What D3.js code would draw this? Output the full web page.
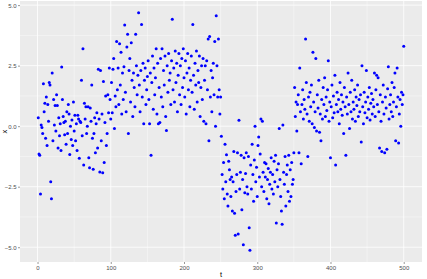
<!DOCTYPE html>
<meta charset="utf-8">
<style>
  body { margin: 0; background: #fff; }
  .tick text { font-family: "Liberation Sans", Arial, sans-serif; font-size: 6px; fill: #4d4d4d; }
  .axis-title { font-family: "Liberation Sans", Arial, sans-serif; font-size: 7.5px; fill: #000; }
</style>
<body>
<script src="https://d3js.org/d3.v7.min.js"></script>
<script>

  // x values for t = 1..500 in four stretches
  var segA = [ // t 1-95
    0.35, -1.15, -1.2, -2.8, 0.05, -0.05, -0.3, 1.75, 0.6, 0.95,
    -0.5, 1.2, -0.8, 0.9, 0.2, 1.8, 1.7, -2.3, -3.0, 2.2,
    -0.6, 1.1, 0.05, 0.85, -0.2, 1.3, 0.85, -0.9, 0.35, -0.4,
    0.1, -1.0, 2.44, 1.1, 0.4, 0.15, -0.35, 0.2, -0.75, 0.6,
    -0.3, 0.9, 0.5, -1.17, 0.0, -0.55, 0.25, -0.8, 1.0, -0.2,
    0.45, -0.6, 0.1, -1.0, 0.45, 0.3, -1.32, 0.2, 0.15, 1.9,
    -0.4, 3.2, -1.6, 0.95, 0.3, 0.8, -0.3, 0.0, 0.8, -1.3,
    -1.72, 0.75, 0.2, 1.7, -0.5, -1.78, -0.3, 0.35, -1.1, 0.1,
    0.55, -0.9, 2.35, 0.3, -1.89, 2.3, -0.6, 0.5, -1.92, 1.85,
    -1.5, 0.15, 1.25, -0.8, -0.3
  ];
  var segB = [ // t 96-250
    1.3, 0.55, 2.4, 1.1, 0.3,
    1.8, 0.55, 2.35, 2.8, -0.1, 1.25, 0.8, 3.5, 1.5, 2.4,
    0.9, 3.4, 1.7, 3.05, 0.5, 2.2, 1.1, 2.45, 4.18, 1.4,
    0.6, 3.27, 3.8, -0.3, 2.3, 2.8, 1.0, 3.45, 1.9, 0.4,
    2.2, 1.6, 0.8, 3.8, 2.5, 1.3, 2.1, 4.68, 1.7, 0.6,
    2.3, 4.2, 1.2, 2.6, 0.1, 1.9, 2.4, 0.9, 1.5, 2.05,
    2.7, 1.1, 0.1, 2.2, -1.2, 1.8, 2.9, 0.7, 2.4, 1.3,
    2.0, 3.2, 0.5, 2.6, 0.1, 1.6, 0.15, 2.8, 1.2, 3.2,
    0.8, 2.3, 1.7, 2.9, 0.4, -0.18, 2.5, 1.4, 3.0, 1.9,
    2.2, 0.9, 2.7, 4.42, 1.5, 2.4, 1.0, 3.1, 1.8, 2.6,
    0.6, 2.1, 3.0, 1.3, 2.5, 0.9, 2.8, 1.6, 3.2, 2.0,
    1.2, 2.7, 0.5, 2.2, 3.0, 1.5, 2.4, 0.8, 1.9, 2.9,
    1.4, 4.2, 2.1, 0.7, 2.6, 1.7, 3.1, 1.0, 2.3, 1.8,
    2.9, 0.4, 1.6, 2.5, 1.1, 2.8, 0.2, 1.9, 2.5, 0.1,
    2.7, 1.5, 3.6, -0.6, 3.7, 1.2, 2.3, 0.6, 2.0, 2.6,
    1.3, 3.5, 0.0, 4.56, 2.5, 1.2, 3.6, 1.5, 0.5, 1.2
  ];
  var segC = [ // t 251-350
    -0.42, -2.0, -2.6, -1.5, -3.0, -0.75, -2.3, -1.18, -2.8, -3.3,
    -1.45, -1.8, -2.2, -2.9, -2.1, -3.5, -2.3, -1.05, -3.6, -4.5,
    -2.7, -2.0, -1.1, -4.45, 0.24, -2.6, -1.9, -1.2, -3.45, -2.2,
    -4.9, -1.3, -2.75, -1.95, -1.1, -2.5, -2.8, -1.25, -4.2, -5.12,
    -1.6, -2.6, -0.75, -2.0, -3.1, -1.4, 0.0, -2.3, -1.7, -2.9,
    -0.8, -0.45, -2.1, -1.15, 0.3, -2.5, 0.2, -1.9, -2.7, -1.5,
    -2.1, -1.55, -3.0, -2.2, -1.75, -3.2, -2.4, -1.9, -1.3, -2.6,
    -2.0, -2.8, -1.45, -2.3, -1.2, -4.0, -1.8, -2.5, -1.55, -0.1,
    -2.2, -2.9, -3.5, -4.05, 0.05, -1.9, -2.4, -1.25, -3.3, -2.0,
    -1.6, -2.7, -1.2, -3.1, -1.8, -2.9, -1.5, -2.4, -2.2, -1.1
  ];
  var segD = [ // t 351-500
    1.6, 0.4, 1.0, -0.2, 0.9, 1.3, -1.1, 2.4, 0.6, -1.55,
    0.9, 1.5, 0.3, 1.1, 0.7, 3.6, 1.8, 0.5, -1.25, 1.2,
    0.2, 1.4, 0.8, 1.7, 0.1, 3.05, 1.0, -0.05, 0.6, 2.8,
    -0.2, 1.3, 0.75, 1.9, -0.25, 0.5, -0.6, 1.1, 0.3, 1.6,
    0.9, 2.0, 0.4, 1.2, 0.65, 1.5, 2.7, 0.2, 1.0, -1.3,
    0.8, 1.7, 0.35, 1.25, 0.55, 2.1, -1.6, 0.9, 1.4, 0.6,
    1.1, 0.1, 1.8, 0.7, 1.3, 0.45, 1.0, -0.3, 1.6, 0.8,
    -1.2, 1.2, 0.5, 2.2, 0.9, -0.1, 1.4, 0.6, 1.9, 0.3,
    1.0, 0.7, 1.5, 0.2, 1.2, 0.85, 1.7, 0.4, 1.1, 0.6,
    1.3, -0.65, 2.5, 0.8, 0.1, 1.4, 0.55, 1.0, 2.3, 0.35,
    1.2, 0.7, 1.6, 0.25, 0.95, 1.35, 0.5, 1.1, 0.8, 2.2,
    0.4, 1.5, 2.1, 0.9, 2.0, 0.6, -0.9, 1.3, 0.2, -1.05,
    1.0, 1.7, 0.5, -1.1, 1.2, 0.75, -0.95, 1.55, 2.45, 0.3,
    0.9, 1.3, 0.6, 1.8, 0.4, 1.0, 1.6, 2.2, -0.6, 0.8,
    2.4, 1.2, -0.7, 0.5, 1.1, 0.0, 1.4, 0.9, 1.3, 3.3
  ];

  var xTicks = [0, 100, 200, 300, 400, 500],
    xMinor = [50, 150, 250, 350, 450],
    yTicks = [-5, -2.5, 0, 2.5, 5],
    yMinor = [-3.75, -1.25, 1.25, 3.75];

  var data = segA.concat(segB, segC, segD).map(function (v, i) {
    return { t: i + 1, x: v };
  });

  var width = 427,
    height = 279,
    margin = { top: 1, right: 5, bottom: 17, left: 20 },
    pw = width - margin.left - margin.right,
    ph = height - margin.top - margin.bottom;

  // ggplot style 5% expansion
  function expand(ext) {
    var d = (ext[1] - ext[0]) * 0.05;
    return [ext[0] - d, ext[1] + d];
  }

  var xScale = d3.scaleLinear()
    .domain(expand(d3.extent(data, function (d) { return d.t; })))
    .range([0, pw]);

  var yScale = d3.scaleLinear()
    .domain(expand(d3.extent(data, function (d) { return d.x; })))
    .range([ph, 0]);

  var svg = d3.select("body").append("svg")
    .attr("width", width)
    .attr("height", height);

  var g = svg.append("g")
    .attr("transform", "translate(" + margin.left + "," + margin.top + ")");

  g.append("rect")
    .attr("width", pw)
    .attr("height", ph)
    .attr("fill", "#ebebeb");

  // grid
  g.selectAll(".minor-x").data(xMinor).enter().append("line")
    .attr("x1", xScale).attr("x2", xScale)
    .attr("y1", 0).attr("y2", ph)
    .attr("stroke", "#fff").attr("stroke-width", 0.4);
  g.selectAll(".minor-y").data(yMinor).enter().append("line")
    .attr("y1", yScale).attr("y2", yScale)
    .attr("x1", 0).attr("x2", pw)
    .attr("stroke", "#fff").attr("stroke-width", 0.4);
  g.selectAll(".major-x").data(xTicks).enter().append("line")
    .attr("x1", xScale).attr("x2", xScale)
    .attr("y1", 0).attr("y2", ph)
    .attr("stroke", "#fff").attr("stroke-width", 0.8);
  g.selectAll(".major-y").data(yTicks).enter().append("line")
    .attr("y1", yScale).attr("y2", yScale)
    .attr("x1", 0).attr("x2", pw)
    .attr("stroke", "#fff").attr("stroke-width", 0.8);

  // points
  g.selectAll("circle")
    .data(data)
    .enter().append("circle")
    .attr("cx", function (d) { return xScale(d.t); })
    .attr("cy", function (d) { return yScale(d.x); })
    .attr("r", 1.5)
    .attr("fill", "#0000ff");

  // axes
  var xAxis = g.append("g")
    .attr("transform", "translate(0," + ph + ")")
    .call(d3.axisBottom(xScale).tickValues(xTicks).tickSize(2).tickPadding(1.5)
      .tickFormat(d3.format("d")));
  var yAxis = g.append("g")
    .call(d3.axisLeft(yScale).tickValues(yTicks).tickSize(2).tickPadding(1.5)
      .tickFormat(d3.format(".1f")));

  [xAxis, yAxis].forEach(function (a) {
    a.select(".domain").remove();
    a.selectAll(".tick line").attr("stroke", "#333").attr("stroke-width", 0.5);
  });

  svg.append("text")
    .attr("class", "axis-title")
    .attr("x", margin.left + pw / 2)
    .attr("y", height - 2)
    .attr("text-anchor", "middle")
    .text("t");

  svg.append("text")
    .attr("class", "axis-title")
    .attr("transform", "translate(7," + (margin.top + ph / 2) + ") rotate(-90)")
    .attr("text-anchor", "middle")
    .text("x");

</script>
</body>
